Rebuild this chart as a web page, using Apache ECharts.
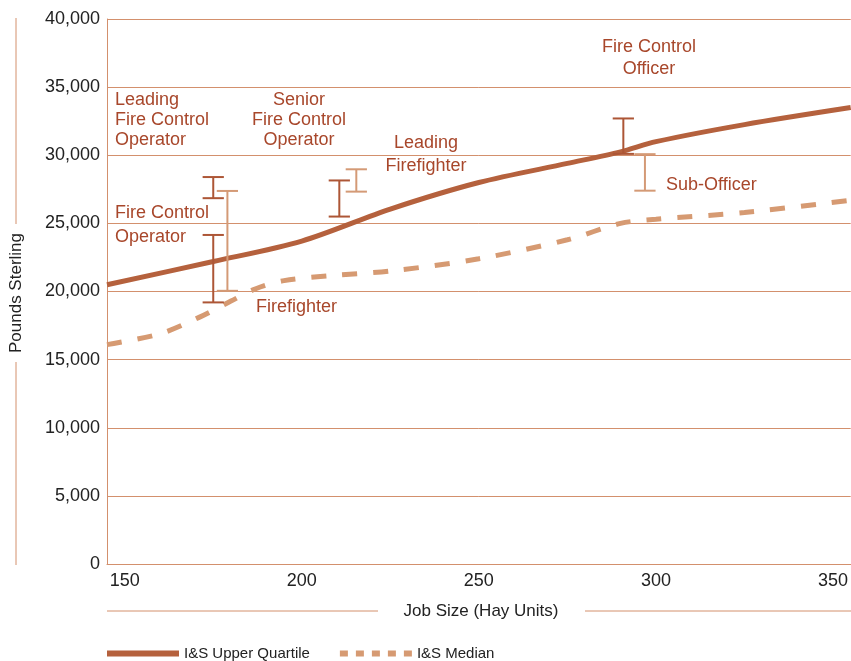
<!DOCTYPE html>
<html>
<head>
<meta charset="utf-8">
<script src="https://cdn.jsdelivr.net/npm/echarts@6/dist/echarts.min.js"></script>
<style>
  html, body { margin: 0; padding: 0; background: #fff; }
  #chart { width: 851px; height: 661px; }
</style>
</head>
<body>
<div id="chart"></div>
<script>
// upper quartile (solid)
const upperX = [145, 175, 200, 225, 250, 275, 290, 300, 325, 355];
const upperY = [20500, 22200, 23700, 26050, 28000, 29400, 30250, 31000, 32250, 33500];
// median (dashed)
const medianX = [145, 160, 171, 180, 187, 195, 210, 225, 250, 275, 290, 300, 325, 355];
const medianY = [16100, 16900, 18100, 19300, 20200, 20800, 21200, 21500, 22400, 23800, 25000, 25300, 25800, 26700];

// grade ranges (I markers)
const darkBarX = [175, 175, 210.6, 290.8];
const darkBarLow = [26850, 19200, 25500, 30100];
const darkBarHigh = [28400, 24150, 28150, 32700];
const lightBarX = [179, 215.4, 296.9];
const lightBarLow = [20050, 27330, 27400];
const lightBarHigh = [27380, 28970, 30080];

const xTicks = [150, 200, 250, 300, 350];

const FONT = "'Liberation Sans', Helvetica, Arial, sans-serif";
const TEXT_RED = '#a8472b';
const GRID = '#d3906d';
const SOLID = '#b5613d';
const DASHED = '#d69a72';
const BAR_DARK = '#ad5636';
const BAR_LIGHT = '#d49a76';

const chart = echarts.init(document.getElementById('chart'));

function barSeries(name, xs, lows, highs, color) {
  return {
    name: name,
    type: 'custom',
    silent: true,
    z: 5,
    data: xs.map((x, i) => [x, lows[i], highs[i]]),
    renderItem: function (params, api) {
      const x = api.value(0);
      const lo = api.coord([x, api.value(1)]);
      const hi = api.coord([x, api.value(2)]);
      const l = api.coord([x - 3, 0])[0];
      const r = api.coord([x + 3, 0])[0];
      const style = { stroke: color, lineWidth: 2 };
      return {
        type: 'group',
        children: [
          { type: 'line', shape: { x1: lo[0], y1: lo[1], x2: hi[0], y2: hi[1] }, style: style },
          { type: 'line', shape: { x1: l, y1: lo[1], x2: r, y2: lo[1] }, style: style },
          { type: 'line', shape: { x1: l, y1: hi[1], x2: r, y2: hi[1] }, style: style }
        ]
      };
    }
  };
}

function note(x, y, text, align, lineHeight) {
  return {
    type: 'text',
    x: x,
    y: y,
    style: {
      text: text,
      fill: TEXT_RED,
      font: '18px ' + FONT,
      align: align || 'left',
      verticalAlign: 'top',
      lineHeight: lineHeight || 20
    }
  };
}

const option = {
  animation: false,
  backgroundColor: '#fff',
  grid: { left: 107, right: 0, top: 19, bottom: 97 },
  xAxis: {
    type: 'value',
    min: 145,
    max: 355,
    axisLine: { show: true, lineStyle: { color: GRID, width: 1 } },
    axisTick: { show: false },
    splitLine: { show: false },
    axisLabel: {
      customValues: xTicks,
      color: '#222',
      fontFamily: FONT,
      fontSize: 18,
      margin: 8
    }
  },
  yAxis: {
    type: 'value',
    min: 0,
    max: 40000,
    interval: 5000,
    axisLine: { show: true, lineStyle: { color: GRID, width: 1 } },
    axisTick: { show: false },
    splitLine: { show: true, lineStyle: { color: GRID, width: 1 } },
    axisLabel: {
      color: '#222',
      fontFamily: FONT,
      fontSize: 18,
      margin: 7,
      formatter: v => v.toLocaleString('en-GB')
    }
  },
  legend: {
    left: 102,
    top: 641,
    itemWidth: 72,
    itemHeight: 6,
    itemGap: 30,
    textStyle: { color: '#222', fontFamily: FONT, fontSize: 15 },
    data: [
      { name: 'I&S Upper Quartile', icon: 'rect' },
      { name: 'I&S Median', icon: 'path://M0 0h8v6h-8z M16 0h8v6h-8z M32 0h8v6h-8z M48 0h8v6h-8z M64 0h8v6h-8z' }
    ]
  },
  series: [
    {
      name: 'I&S Upper Quartile',
      type: 'line',
      data: upperX.map((x, i) => [x, upperY[i]]),
      smooth: 0.3,
      symbol: 'none',
      lineStyle: { color: SOLID, width: 5 },
      itemStyle: { color: SOLID },
      z: 3
    },
    {
      name: 'I&S Median',
      type: 'line',
      data: medianX.map((x, i) => [x, medianY[i]]),
      smooth: 0.3,
      symbol: 'none',
      lineStyle: { color: DASHED, width: 5, type: [15, 16] },
      itemStyle: { color: DASHED },
      z: 3
    },
    barSeries('dark', darkBarX, darkBarLow, darkBarHigh, BAR_DARK),
    barSeries('light', lightBarX, lightBarLow, lightBarHigh, BAR_LIGHT)
  ],
  graphic: [
    // y axis title with rules
    { type: 'line', shape: { x1: 16, y1: 18, x2: 16, y2: 224 }, style: { stroke: GRID, lineWidth: 1 } },
    { type: 'line', shape: { x1: 16, y1: 362, x2: 16, y2: 565 }, style: { stroke: GRID, lineWidth: 1 } },
    {
      type: 'text', x: 16, y: 293, rotation: Math.PI / 2,
      style: { text: 'Pounds Sterling', fill: '#222', font: '17px ' + FONT, align: 'center', verticalAlign: 'middle' }
    },
    // x axis title with rules
    { type: 'line', shape: { x1: 107, y1: 611, x2: 378, y2: 611 }, style: { stroke: GRID, lineWidth: 1 } },
    { type: 'line', shape: { x1: 585, y1: 611, x2: 851, y2: 611 }, style: { stroke: GRID, lineWidth: 1 } },
    {
      type: 'text', x: 481, y: 611,
      style: { text: 'Job Size (Hay Units)', fill: '#222', font: '17px ' + FONT, align: 'center', verticalAlign: 'middle' }
    },
    // grade labels
    note(115, 90, 'Leading\nFire Control\nOperator'),
    note(299, 90, 'Senior\nFire Control\nOperator', 'center'),
    note(426, 132, 'Leading\nFirefighter', 'center', 23),
    note(649, 36, 'Fire Control\nOfficer', 'center', 22),
    note(115, 201, 'Fire Control\nOperator', 'left', 24),
    note(256, 297, 'Firefighter'),
    note(666, 175, 'Sub-Officer')
  ]
};

chart.setOption(option);
</script>
</body>
</html>
